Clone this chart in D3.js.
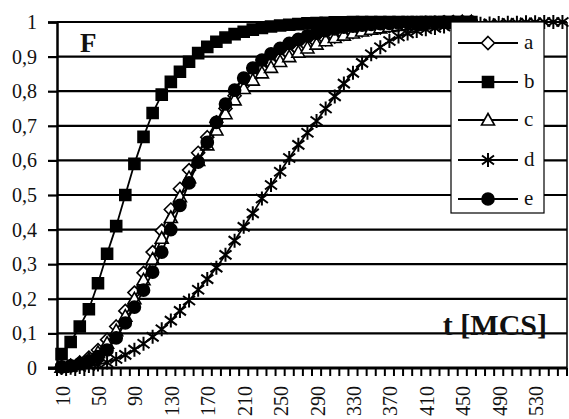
<!DOCTYPE html>
<meta charset="utf-8">
<style>
  body { margin: 0; background: #fff; }
  svg text { font-family: "Liberation Serif", "Times New Roman", serif; fill: #111; }
</style>
<body>
<div id="chart"></div>
<script src="https://d3js.org/d3.v7.min.js"></script>
<script>

// categories on the t axis (MCS)
var categories = [10,20,30,40,50,60,70,80,90,100,110,120,130,140,150,160,170,180,190,200,
  210,220,230,240,250,260,270,280,290,300,310,320,330,340,350,360,370,380,390,400,
  410,420,430,440,450,460,470,480,490,500,510,520,530,540,550,560];

var xLabels = [10,50,90,130,170,210,250,290,330,370,410,450,490,530];
var yTicks = [0,0.1,0.2,0.3,0.4,0.5,0.6,0.7,0.8,0.9,1];
var yLabels = ["0","0,1","0,2","0,3","0,4","0,5","0,6","0,7","0,8","0,9","1"];

// series values, t = 10 .. 460 (d runs to 560)
var seriesA = [0.002,0.007,0.016,0.03,0.052,0.082,0.12,0.165,0.218,0.275,
  0.335,0.397,0.458,0.518,0.572,0.622,0.667,0.71,0.75,0.787,
  0.818,0.843,0.863,0.88,0.895,0.908,0.92,0.931,0.941,0.95,
  0.958,0.965,0.971,0.976,0.98,0.984,0.988,0.991,0.993,0.995,
  0.996,0.997,0.998,0.999,1,1];
var seriesB = [0.04,0.075,0.12,0.17,0.245,0.33,0.41,0.5,0.59,0.668,
  0.737,0.79,0.827,0.856,0.885,0.91,0.928,0.943,0.955,0.965,
  0.972,0.978,0.983,0.987,0.99,0.992,0.994,0.996,0.997,0.998,
  0.999,0.999,1,1,1,1,1,1,1,1,
  1,1,1,1,1,1];
var seriesC = [0.002,0.006,0.013,0.025,0.045,0.072,0.108,0.15,0.2,0.255,
  0.315,0.375,0.435,0.495,0.55,0.6,0.645,0.688,0.735,0.775,
  0.808,0.832,0.853,0.869,0.886,0.9,0.913,0.925,0.936,0.946,
  0.955,0.962,0.968,0.974,0.979,0.983,0.987,0.99,0.992,0.994,
  0.996,0.997,0.998,0.999,1,1];
var seriesD = [0,0.001,0.003,0.006,0.01,0.016,0.026,0.038,0.053,0.07,
  0.09,0.112,0.137,0.165,0.195,0.226,0.257,0.29,0.327,0.368,
  0.408,0.447,0.49,0.529,0.567,0.607,0.645,0.68,0.714,0.75,
  0.785,0.822,0.853,0.882,0.907,0.927,0.945,0.958,0.967,0.974,
  0.979,0.983,0.987,0.99,0.992,0.994,0.995,0.996,0.997,0.998,
  0.998,0.999,0.999,1,1,1];
var seriesE = [0.003,0.006,0.012,0.02,0.033,0.052,0.087,0.13,0.176,0.225,
  0.277,0.335,0.4,0.47,0.535,0.595,0.652,0.71,0.763,0.803,
  0.838,0.867,0.89,0.908,0.924,0.938,0.95,0.96,0.968,0.975,
  0.98,0.985,0.988,0.991,0.993,0.995,0.996,0.997,0.998,0.998,
  0.999,0.999,1,1,1,1];

var width = 569, height = 419;
var plotL = 57, plotR = 567, plotT = 22, plotB = 368;

var svg = d3.select("#chart").append("svg")
    .attr("width", width)
    .attr("height", height);

var x = d3.scaleBand().domain(categories).range([plotL, plotR]);
var y = d3.scaleLinear().domain([0, 1]).range([plotB, plotT]);
var cx = function(t) { return x(t) + x.bandwidth() / 2; };

// horizontal grid
svg.append("g").selectAll("line")
    .data(yTicks)
  .enter().append("line")
    .attr("x1", plotL).attr("x2", plotR)
    .attr("y1", function(d) { return y(d); })
    .attr("y2", function(d) { return y(d); })
    .attr("stroke", "#000").attr("stroke-width", 2.2);

// right border
svg.append("line")
    .attr("x1", plotR).attr("x2", plotR).attr("y1", plotT).attr("y2", plotB)
    .attr("stroke", "#000").attr("stroke-width", 1.5);

// y axis
var yAxis = d3.axisLeft(y)
    .tickValues(yTicks)
    .tickFormat(function(d, i) { return yLabels[i]; })
    .tickSize(9)
    .tickPadding(11);
var gy = svg.append("g").attr("transform", "translate(" + plotL + ",0)").call(yAxis);
gy.select(".domain").attr("stroke-width", 2.5);
gy.selectAll(".tick line").attr("stroke-width", 2.2);
gy.selectAll("text").attr("font-size", 20).attr("fill", "#111")
    .attr("font-family", "'Liberation Serif', serif");

// x axis: ticks on category edges, labels every 4th category
svg.append("line")
    .attr("x1", plotL - 9).attr("x2", plotR).attr("y1", plotB).attr("y2", plotB)
    .attr("stroke", "#000").attr("stroke-width", 3);
svg.append("g").selectAll("line")
    .data(categories.concat(["end"]))
  .enter().append("line")
    .attr("x1", function(d) { return d === "end" ? plotR : x(d); })
    .attr("x2", function(d) { return d === "end" ? plotR : x(d); })
    .attr("y1", plotB).attr("y2", plotB + 8)
    .attr("stroke", "#000").attr("stroke-width", 2);
svg.append("g").selectAll("text")
    .data(xLabels)
  .enter().append("text")
    .attr("transform", function(d) { return "translate(" + (cx(d) + 1) + "," + (plotB + 18) + ") rotate(-90)"; })
    .attr("text-anchor", "end")
    .attr("dy", "0.35em")
    .attr("font-size", 20)
    .text(function(d) { return d; });

// markers
var shapes = {
  a: "M0,-6.5L6.5,0L0,6.5L-6.5,0Z",
  b: "M-5.5,-5.5L5.5,-5.5L5.5,5.5L-5.5,5.5Z",
  c: "M0,-6.5L6.5,5L-6.5,5Z",
  d: "M0,-7L0,7M-6,-4.5L6,4.5M-6,4.5L6,-4.5",
  e: d3.symbol(d3.symbolCircle, 115)()
};
var fills = { a: "#fff", b: "#000", c: "#fff", d: "none", e: "#000" };

var series = [
  { key: "a", values: seriesA },
  { key: "b", values: seriesB },
  { key: "c", values: seriesC },
  { key: "d", values: seriesD },
  { key: "e", values: seriesE }
];

var line = d3.line()
    .x(function(d) { return cx(d.t); })
    .y(function(d) { return y(d.v); });

series.forEach(function(s) {
  var pts = s.values.map(function(v, i) { return { t: categories[i], v: v }; });
  var g = svg.append("g");
  g.append("path")
      .datum(pts)
      .attr("d", line)
      .attr("fill", "none")
      .attr("stroke", "#000")
      .attr("stroke-width", 1.8);
  g.selectAll("path.m")
      .data(pts)
    .enter().append("path")
      .attr("class", "m")
      .attr("transform", function(d) { return "translate(" + cx(d.t) + "," + y(d.v) + ")"; })
      .attr("d", shapes[s.key])
      .attr("fill", fills[s.key])
      .attr("stroke", "#000")
      .attr("stroke-width", s.key === "d" ? 2 : 1.6);
});

// legend
var legend = svg.append("g").attr("class", "legend");
legend.append("rect")
    .attr("x", 451).attr("y", 22).attr("width", 93).attr("height", 191)
    .attr("fill", "#fff").attr("stroke", "#000").attr("stroke-width", 1.2);
var rowY = [43, 82, 120, 160, 199];
series.forEach(function(s, i) {
  var gl = legend.append("g").attr("transform", "translate(0," + rowY[i] + ")");
  gl.append("line")
      .attr("x1", 458).attr("x2", 518).attr("y1", 0).attr("y2", 0)
      .attr("stroke", "#000").attr("stroke-width", 1.8);
  gl.append("path")
      .attr("transform", "translate(488,0)")
      .attr("d", shapes[s.key])
      .attr("fill", fills[s.key])
      .attr("stroke", "#000")
      .attr("stroke-width", s.key === "d" ? 2 : 1.6);
  gl.append("text")
      .attr("x", 524).attr("y", 0).attr("dy", "0.3em")
      .attr("font-size", 21)
      .text(s.key);
});

// axis titles inside plot
svg.append("text")
    .attr("x", 80).attr("y", 52)
    .attr("font-size", 27).attr("font-weight", "bold")
    .text("F");
svg.append("text")
    .attr("x", 547).attr("y", 335)
    .attr("text-anchor", "end")
    .attr("font-size", 30).attr("font-weight", "bold")
    .text("t [MCS]");

</script>
</body>
